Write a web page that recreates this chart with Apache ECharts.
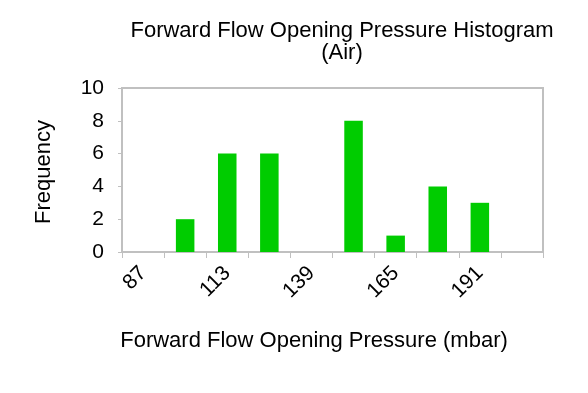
<!DOCTYPE html>
<html><head><meta charset="utf-8">
<script src="https://cdn.jsdelivr.net/npm/echarts@6/dist/echarts.min.js"></script>
<style>html,body{margin:0;padding:0;background:#fff}#c{width:588px;height:393px}</style>
</head><body><div id="c"></div>
<script>
const categories = ['87','100','113','126','139','152','165','178','191','204'];
const frequency = [0, 2, 6, 6, 0, 8, 1, 4, 3, 0];
const yTicks = [0, 2, 4, 6, 8, 10];
const titleLines = ['Forward Flow Opening Pressure Histogram', '(Air)'];
const xName = 'Forward Flow Opening Pressure (mbar)';
const yName = 'Frequency';

const font = 'Liberation Sans, Arial, sans-serif';
const chart = echarts.init(document.getElementById('c'), null, {renderer: 'canvas'});
chart.setOption({
  animation: false,
  backgroundColor: '#fff',
  grid: {left: 122, right: 45, top: 88, bottom: 141, show: true, borderColor: '#c0c0c0', borderWidth: 2, backgroundColor: 'transparent'},
  xAxis: {
    type: 'category', data: categories, boundaryGap: true,
    axisLine: {lineStyle: {color: '#c0c0c0', width: 2}},
    axisTick: {show: true, interval: 0, length: 6, lineStyle: {color: '#c0c0c0', width: 1}},
    axisLabel: {interval: 1, rotate: 45, fontSize: 21, color: '#000', fontFamily: font, margin: 18}
  },
  yAxis: {
    type: 'value', min: yTicks[0], max: yTicks[yTicks.length - 1], interval: 2,
    axisLine: {show: true, lineStyle: {color: '#c0c0c0', width: 2}},
    axisTick: {show: true, length: 4, lineStyle: {color: '#c0c0c0'}},
    splitLine: {show: false},
    axisLabel: {fontSize: 21, color: '#000', fontFamily: font, margin: 18}
  },
  series: [{type: 'bar', data: frequency, barWidth: '44%', itemStyle: {color: '#00cc00'}}],
  graphic: [
    {type: 'text', x: 342, y: 31, style: {text: titleLines[0], font: '22px ' + font, fill: '#000', textAlign: 'center', textVerticalAlign: 'middle'}},
    {type: 'text', x: 342, y: 53, style: {text: titleLines[1], font: '22px ' + font, fill: '#000', textAlign: 'center', textVerticalAlign: 'middle'}},
    {type: 'text', x: 314, y: 341, style: {text: xName, font: '22px ' + font, fill: '#000', textAlign: 'center', textVerticalAlign: 'middle'}},
    {type: 'text', x: 44, y: 172, rotation: Math.PI / 2, style: {text: yName, font: '22px ' + font, fill: '#000', textAlign: 'center', textVerticalAlign: 'middle'}}
  ]
});
</script></body></html>
